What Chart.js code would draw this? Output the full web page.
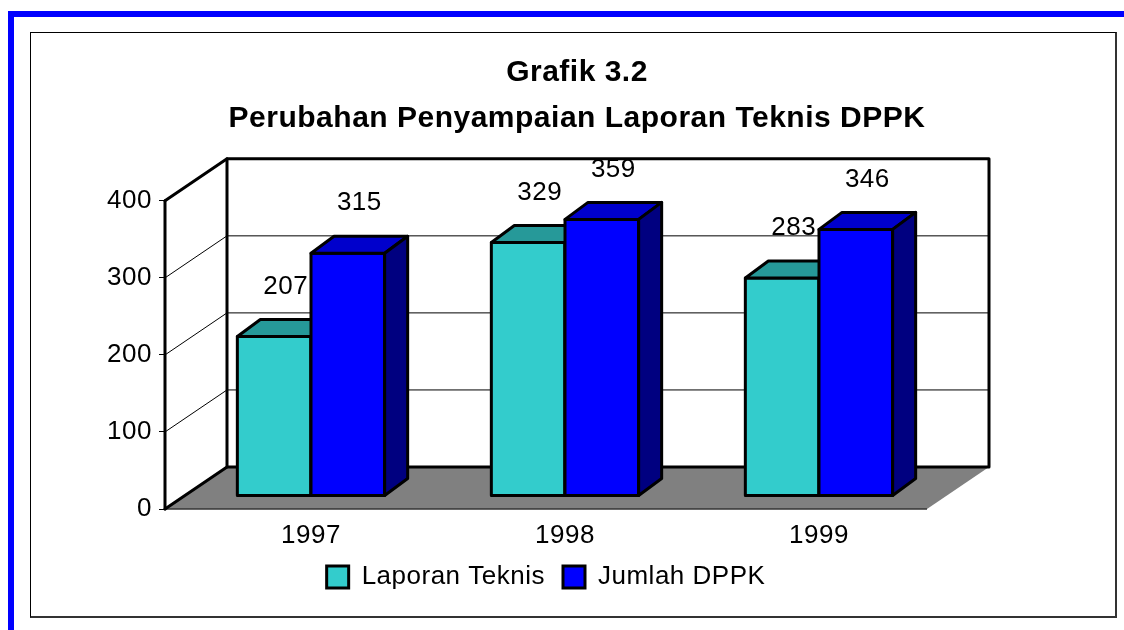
<!DOCTYPE html>
<html>
<head>
<meta charset="utf-8">
<script src="https://cdn.jsdelivr.net/npm/chart.js@4.4.0/dist/chart.umd.min.js"></script>
<style>
  html, body { margin: 0; padding: 0; background: #fff; }
  body { width: 1124px; height: 630px; position: relative; overflow: hidden; }
  #blueTop { position: absolute; left: 8px; top: 11px; width: 1116px; height: 6px; background: #0000ff; }
  #blueLeft { position: absolute; left: 8px; top: 11px; width: 6px; height: 619px; background: #0000ff; }
  #panel { position: absolute; left: 30px; top: 32px; width: 1084px; height: 583px;
           border: 1px solid #000; border-right: 2px solid #333; border-bottom: 2px solid #333; }
  #chart1 { position: absolute; left: 0; top: 0; }
</style>
</head>
<body>
<div id="blueTop"></div>
<div id="blueLeft"></div>
<div id="panel"></div>
<canvas id="chart1" width="1124" height="630"></canvas>
<script>
const years = ["1997", "1998", "1999"];
const laporanTeknis = [207, 329, 283];
const jumlahDPPK = [315, 359, 346];
const yTicks = [0, 100, 200, 300, 400];
const titleLines = ["Grafik 3.2", "Perubahan Penyampaian Laporan Teknis DPPK"];

const FONT = "'Liberation Sans', Arial, sans-serif";
const WALL_DX = 62, WALL_DY = -42;   // back wall offset
const BAR_DX = 19, BAR_DY = -13;     // bars stand a bit inside the floor
const DEPTH_DX = 23, DEPTH_DY = -17; // bar depth

function line(ctx, x1, y1, x2, y2) {
    ctx.beginPath();
    ctx.moveTo(x1, y1);
    ctx.lineTo(x2, y2);
    ctx.stroke();
}

function poly(ctx, pts, fill) {
    ctx.beginPath();
    ctx.moveTo(pts[0][0], pts[0][1]);
    for (let i = 1; i < pts.length; i++) ctx.lineTo(pts[i][0], pts[i][1]);
    ctx.closePath();
    ctx.fillStyle = fill;
    ctx.fill();
    ctx.stroke();
}

const spacing = {
    id: 'spacing',
    beforeUpdate(chart) { chart.ctx.letterSpacing = '0.5px'; },
    beforeDraw(chart) { chart.ctx.letterSpacing = '0.5px'; }
};

const box3d = {
    id: 'box3d',
    beforeDatasetsDraw(chart) {
        const {ctx, chartArea: a, scales: {y}} = chart;
        const y0 = y.getPixelForValue(yTicks[0]);
        const yTop = y.getPixelForValue(yTicks[yTicks.length - 1]);
        ctx.save();
        // floor
        ctx.fillStyle = '#808080';
        ctx.beginPath();
        ctx.moveTo(a.left, y0);
        ctx.lineTo(a.right, y0);
        ctx.lineTo(a.right + WALL_DX, y0 + WALL_DY);
        ctx.lineTo(a.left + WALL_DX, y0 + WALL_DY);
        ctx.closePath();
        ctx.fill();
        ctx.strokeStyle = '#333';
        ctx.lineWidth = 1.5;
        line(ctx, a.left, y0, a.right, y0);

        // gridlines on side and back wall
        ctx.strokeStyle = '#000';
        ctx.lineWidth = 1;
        yTicks.slice(1, -1).forEach(v => {
            const py = y.getPixelForValue(v);
            line(ctx, a.left, py, a.left + WALL_DX, py + WALL_DY);
            line(ctx, a.left + WALL_DX, py + WALL_DY, a.right + WALL_DX, py + WALL_DY);
        });

        // heavy frame
        ctx.lineWidth = 3;
        ctx.lineJoin = 'round';
        ctx.lineCap = 'round';
        ctx.strokeRect(a.left + WALL_DX, yTop + WALL_DY, a.right - a.left, y0 - yTop);
        line(ctx, a.left, yTop, a.left + WALL_DX, yTop + WALL_DY);
        line(ctx, a.left, y0, a.left + WALL_DX, y0 + WALL_DY);
        line(ctx, a.left, yTop, a.left, y0);
        ctx.restore();

        ctx.save();
        ctx.translate(BAR_DX, BAR_DY);
    },
    afterDatasetsDraw(chart) {
        const ctx = chart.ctx;
        ctx.lineWidth = 3;
        ctx.strokeStyle = '#000';
        ctx.lineJoin = 'round';
        years.forEach((yr, j) => {
            chart.data.datasets.forEach((ds, i) => {
                const bar = chart.getDatasetMeta(i).data[j];
                const {x, y, base, width} = bar.getProps(['x', 'y', 'base', 'width'], true);
                const l = x - width / 2, r = x + width / 2;
                poly(ctx, [[l, y], [r, y], [r, base], [l, base]], ds.backgroundColor);
                poly(ctx, [[l, y], [l + DEPTH_DX, y + DEPTH_DY], [r + DEPTH_DX, y + DEPTH_DY], [r, y]], ds.topColor);
                poly(ctx, [[r, y], [r + DEPTH_DX, y + DEPTH_DY], [r + DEPTH_DX, base + DEPTH_DY], [r, base]], ds.sideColor);
            });
        });
        ctx.restore();

        // value labels
        ctx.save();
        ctx.font = '26px ' + FONT;
        ctx.fillStyle = '#000';
        ctx.textAlign = 'center';
        ctx.textBaseline = 'middle';
        chart.data.datasets.forEach((ds, i) => {
            chart.getDatasetMeta(i).data.forEach((bar, j) => {
                ctx.fillText(String(ds.data[j]), bar.x + BAR_DX + DEPTH_DX / 2, bar.y + BAR_DY - 50);
            });
        });
        ctx.restore();
    }
};

Chart.defaults.color = '#000';
Chart.defaults.font.family = FONT;

new Chart("chart1", {
    type: "bar",
    data: {
        labels: years,
        datasets: [{
            label: 'Laporan Teknis',
            data: laporanTeknis,
            backgroundColor: '#33cccc',
            topColor: '#269999',
            sideColor: '#1a6666',
            borderColor: '#000',
            borderWidth: 3,
            borderSkipped: false,
            clip: false
        }, {
            label: 'Jumlah DPPK',
            data: jumlahDPPK,
            backgroundColor: '#0000ff',
            topColor: '#0000cc',
            sideColor: '#000080',
            borderColor: '#000',
            borderWidth: 3,
            borderSkipped: false,
            clip: false
        }]
    },
    options: {
        responsive: false,
        animation: false,
        devicePixelRatio: 1,
        layout: {
            padding: {left: 30, right: 0, top: 0, bottom: 30}
        },
        datasets: {
            bar: {categoryPercentage: 0.58, barPercentage: 1.0}
        },
        scales: {
            x: {
                grid: {display: false, drawTicks: false},
                border: {display: false},
                ticks: {font: {size: 26}, padding: 11, labelOffset: BAR_DX, color: '#000'},
                afterFit(s) { s.height = 37; }
            },
            y: {
                min: yTicks[0],
                max: yTicks[yTicks.length - 1],
                ticks: {stepSize: yTicks[1] - yTicks[0], font: {size: 26}, padding: 7, color: '#000'},
                grid: {drawOnChartArea: false, tickLength: 6, color: '#000', lineWidth: 1},
                border: {display: false},
                afterFit(s) { s.width = 135; }
            },
            y2: {
                position: 'right',
                grid: {display: false, drawTicks: false},
                border: {display: false},
                ticks: {display: false},
                afterFit(s) { s.width = 197; }
            }
        },
        plugins: {
            title: {
                display: true,
                text: titleLines,
                color: '#000',
                font: {size: 30, weight: 'bold', lineHeight: 1.53},
                padding: {top: 50, bottom: 59}
            },
            legend: {
                position: 'bottom',
                fullSize: false,
                labels: {boxWidth: 22, boxHeight: 22, font: {size: 26}, padding: 18, color: '#000'}
            },
            tooltip: {enabled: false}
        }
    },
    plugins: [spacing, box3d]
});
</script>
</body>
</html>
